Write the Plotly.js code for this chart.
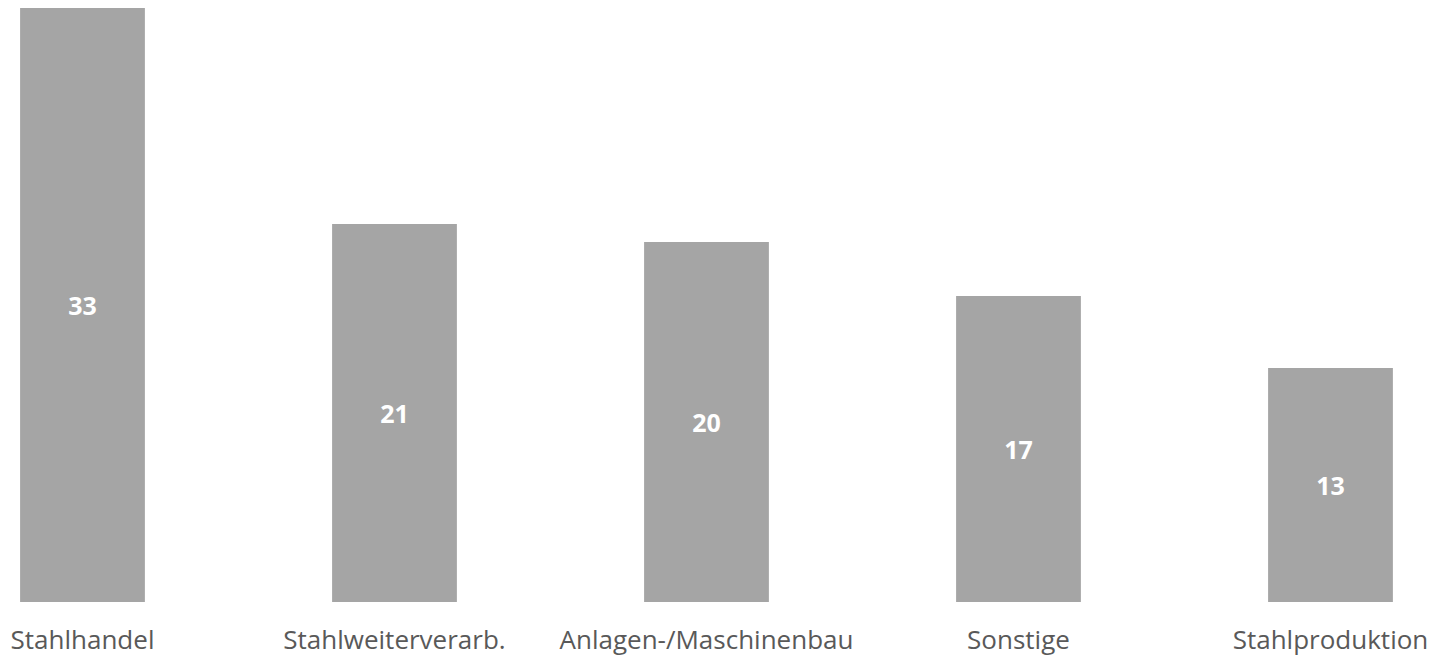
<!DOCTYPE html>
<html>
<head>
<meta charset="utf-8">
<script src="https://cdn.plot.ly/plotly-3.0.1.min.js"></script>
<style>html,body{margin:0;padding:0;background:#fff;}#chart{width:1439px;height:656px;}</style>
</head>
<body>
<div id="chart"></div>
<script>
const categories = ["Stahlhandel", "Stahlweiterverarb.", "Anlagen-/Maschinenbau", "Sonstige", "Stahlproduktion"];
const values = [33, 21, 20, 17, 13];
const valueLabels = ["33", "21", "20", "17", "13"];

const trace = {
  type: "bar",
  x: categories,
  y: values,
  text: valueLabels,
  textposition: "inside",
  insidetextanchor: "middle",
  textangle: 0,
  textfont: {family: "Open Sans, sans-serif", size: 25, color: "#ffffff", weight: "bold"},
  marker: {color: "#A5A5A5"},
  hoverinfo: "none",
  cliponaxis: false
};

const layout = {
  width: 1439,
  height: 656,
  margin: {l: 0, r: 0, t: 0, b: 54},
  paper_bgcolor: "#ffffff",
  plot_bgcolor: "#ffffff",
  showlegend: false,
  bargap: 0.6,
  uniformtext: {mode: false},
  xaxis: {
    type: "category",
    range: [-0.2644, 4.3478],
    showgrid: false,
    zeroline: false,
    showline: false,
    ticks: "",
    ticklabelstandoff: 20,
    tickfont: {family: "Open Sans, sans-serif", size: 26, color: "#595959"},
    fixedrange: true
  },
  yaxis: {
    range: [0, 33.45],
    visible: false,
    showgrid: false,
    zeroline: false,
    fixedrange: true
  },
  font: {family: "Open Sans, sans-serif"}
};

Plotly.newPlot("chart", [trace], layout, {displayModeBar: false, staticPlot: true});
</script>
</body>
</html>
